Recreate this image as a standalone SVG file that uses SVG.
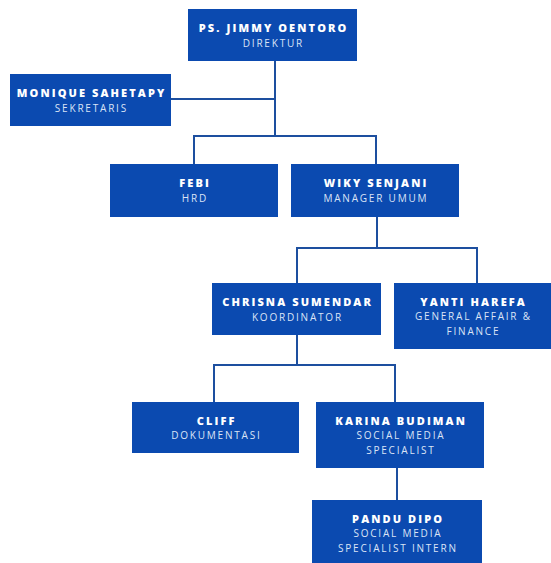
<svg xmlns="http://www.w3.org/2000/svg" width="551" height="563" viewBox="0 0 551 563">
<style>
.box{fill:#0b4ab0}
.nm{font-family:"Open Sans","Liberation Sans",sans-serif;font-weight:800;font-size:11px;letter-spacing:2.1px;fill:#ffffff;text-anchor:middle}
.sb{font-family:"Open Sans","Liberation Sans",sans-serif;font-weight:400;font-size:10px;letter-spacing:1.8px;fill:#dbe4f6;text-anchor:middle}
.ln{fill:none;stroke:#1d4f9f;stroke-width:2}
</style>
<rect width="551" height="563" fill="#ffffff"/>
<g id="connectors">
<path class="ln" d="M275 61V136M171 99H275M194 164V136H376V164"/>
<path class="ln" d="M377 217V248M297 283V248H477V283"/>
<path class="ln" d="M297 335V365M214 402V365H395V402"/>
<path class="ln" d="M397 468V500"/>
</g>
<g id="jimmy">
<rect class="box" x="188" y="9" width="169" height="52"/>
<text class="nm" x="273.6" y="32">PS. JIMMY OENTORO</text>
<text class="sb" x="273.4" y="46.5">DIREKTUR</text>
</g>
<g id="monique">
<rect class="box" x="10" y="74" width="161" height="52"/>
<text class="nm" x="91.6" y="97">MONIQUE SAHETAPY</text>
<text class="sb" x="91.4" y="111.5">SEKRETARIS</text>
</g>
<g id="febi">
<rect class="box" x="110" y="164" width="168" height="53"/>
<text class="nm" x="195.1" y="187">FEBI</text>
<text class="sb" x="194.9" y="201.5">HRD</text>
</g>
<g id="wiky">
<rect class="box" x="291" y="164" width="168" height="53"/>
<text class="nm" x="376.1" y="187">WIKY SENJANI</text>
<text class="sb" x="375.9" y="201.5">MANAGER UMUM</text>
</g>
<g id="chrisna">
<rect class="box" x="212" y="283" width="169" height="52"/>
<text class="nm" x="297.6" y="306">CHRISNA SUMENDAR</text>
<text class="sb" x="297.4" y="320.5">KOORDINATOR</text>
</g>
<g id="yanti">
<rect class="box" x="394" y="283" width="157" height="66"/>
<text class="nm" x="473.6" y="305.5">YANTI HAREFA</text>
<text class="sb" x="473.4" y="320">GENERAL AFFAIR &amp;</text>
<text class="sb" x="473.4" y="334.5">FINANCE</text>
</g>
<g id="cliff">
<rect class="box" x="132" y="402" width="167" height="51"/>
<text class="nm" x="216.6" y="424.5">CLIFF</text>
<text class="sb" x="216.4" y="439">DOKUMENTASI</text>
</g>
<g id="karina">
<rect class="box" x="316" y="402" width="168" height="66"/>
<text class="nm" x="401.1" y="424.5">KARINA BUDIMAN</text>
<text class="sb" x="400.9" y="439">SOCIAL MEDIA</text>
<text class="sb" x="400.9" y="453.5">SPECIALIST</text>
</g>
<g id="pandu">
<rect class="box" x="312" y="500" width="170" height="63"/>
<text class="nm" x="398.1" y="522.5">PANDU DIPO</text>
<text class="sb" x="397.9" y="537">SOCIAL MEDIA</text>
<text class="sb" x="397.9" y="551.5">SPECIALIST INTERN</text>
</g>
</svg>
